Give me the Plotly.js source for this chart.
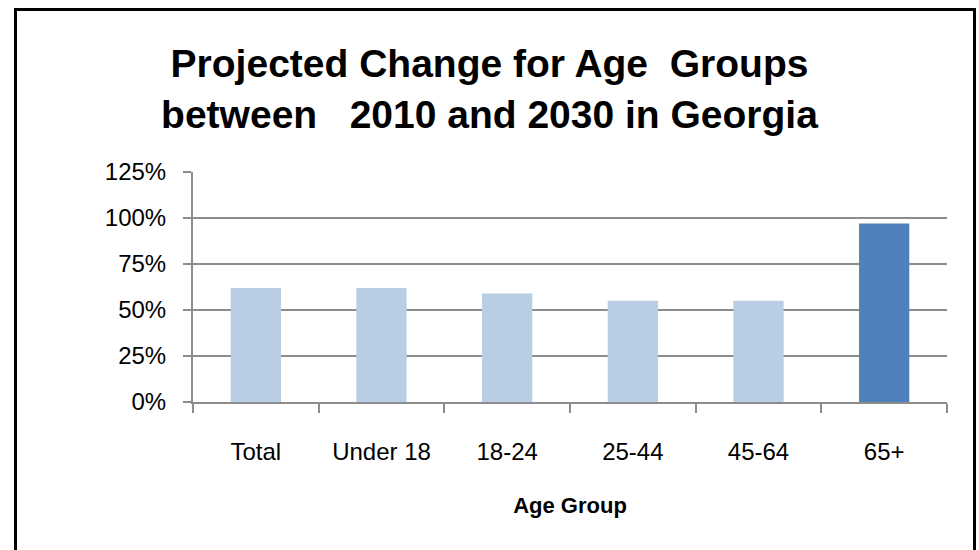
<!DOCTYPE html>
<html>
<head>
<meta charset="utf-8">
<script src="https://cdn.plot.ly/plotly-3.0.1.min.js"></script>
<style>
  html, body { margin: 0; padding: 0; background: #fff; overflow: hidden; }
  #chart { width: 979px; height: 550px; position: absolute; left: 0; top: 0; }
  #frame { position: absolute; left: 14px; top: 8px; width: 956px; height: 600px;
           border: 3px solid #000; pointer-events: none; box-sizing: content-box; }
</style>
</head>
<body>
<div id="chart"></div>
<div id="frame"></div>
<script>
const categories = ["Total", "Under 18", "18-24", "25-44", "45-64", "65+"];
const changePct = [62, 62, 59, 55, 55, 97];
const yTickValues = [0, 25, 50, 75, 100, 125];
const yTickLabels = ["0%", "25%", "50%", "75%", "100%", "125%"];
const highlightCategory = "65+";

const FONT = "'Liberation Sans', Arial, sans-serif";
const barColors = categories.map(c => c === highlightCategory ? "#4f81bd" : "#b9cde5");

const trace = {
  type: "bar",
  x: categories,
  y: changePct,
  marker: { color: barColors, line: { width: 0 } },
  hoverinfo: "x+y"
};

const layout = {
  width: 979,
  height: 550,
  paper_bgcolor: "#ffffff",
  plot_bgcolor: "#ffffff",
  margin: { l: 193, r: 32, t: 172, b: 148 },
  bargap: 0.6,
  showlegend: false,
  title: {
    text: "Projected Change for Age\u00a0\u00a0Groups<br>between\u00a0\u00a0 2010 and 2030 in Georgia",
    font: { family: FONT, size: 39, color: "#000", weight: "bold" },
    x: 0.5, xanchor: "center",
    y: 0.86, yanchor: "middle", yref: "container"
  },
  xaxis: {
    type: "category",
    showline: true, linecolor: "#8c8c8c", linewidth: 2,
    ticks: "outside", ticklen: 9, tickwidth: 2, tickcolor: "#8c8c8c",
    tickson: "boundaries",
    tickangle: 0,
    ticklabelstandoff: 27,
    tickfont: { family: FONT, size: 24, color: "#000" },
    showgrid: false,
    title: { text: "Age Group", font: { family: FONT, size: 22, color: "#000", weight: "bold" }, standoff: 34 }
  },
  yaxis: {
    range: [0, 125],
    tickvals: yTickValues,
    ticktext: yTickLabels,
    showline: true, linecolor: "#8c8c8c", linewidth: 2,
    ticks: "outside", ticklen: 8, tickwidth: 2, tickcolor: "#8c8c8c",
    ticklabelstandoff: 12,
    tickfont: { family: FONT, size: 24, color: "#000" },
    showgrid: true, gridcolor: "#8c8c8c", gridwidth: 2,
    zeroline: false
  }
};

Plotly.newPlot("chart", [trace], layout, { displayModeBar: false, staticPlot: true });
</script>
</body>
</html>
